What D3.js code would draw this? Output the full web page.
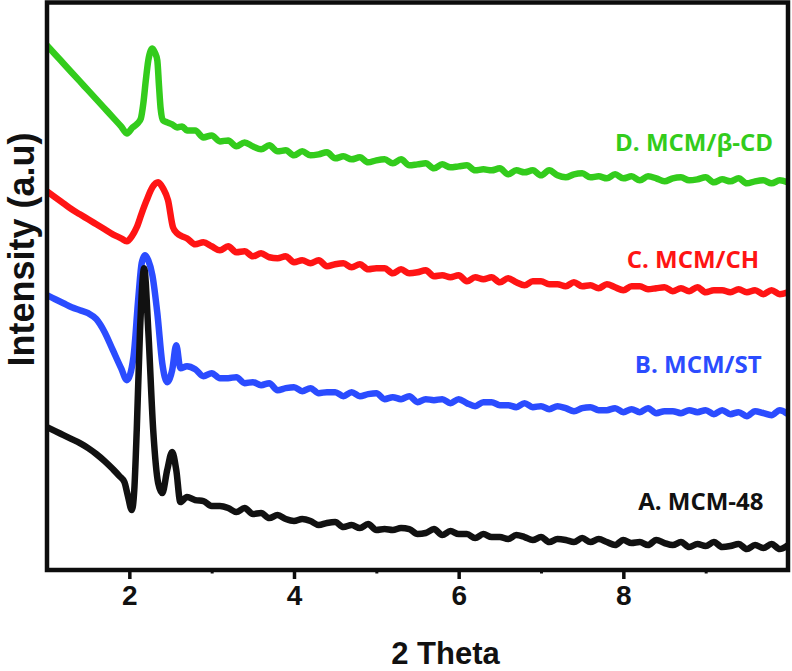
<!DOCTYPE html>
<html>
<head>
<meta charset="utf-8">
<script src="https://cdn.jsdelivr.net/npm/d3@7/dist/d3.min.js"></script>
<style>
  html, body { margin: 0; padding: 0; background: #fff; }
  svg { display: block; }
</style>
</head>
<body>
<svg id="chart" width="792" height="671"></svg>
<script>
// ---------------- DATA ----------------
const xTicks = [2, 4, 6, 8];
const xMinorTicks = [3, 5, 7, 9];
const xTitle = "2 Theta";
const yTitle = "Intensity (a.u)";
const seriesNames = ["A. MCM-48", "B. MCM/ST", "C. MCM/CH", "D. MCM/β-CD"];
const seriesColors = ["#111111", "#2b4cff", "#ff1414", "#33cc1c"];

// shared 2θ values for the noisy tail (2.8 .. 10.0)
const tailX = [2.8,2.9,3.0,3.1,3.2,3.3,3.4,3.5,3.6,3.7,3.8,3.9,4.0,4.1,4.2,4.3,4.4,4.5,4.6,4.7,
  4.8,4.9,5.0,5.1,5.2,5.3,5.4,5.5,5.6,5.7,5.8,5.9,6.0,6.1,6.2,6.3,6.4,6.5,6.6,6.7,
  6.8,6.9,7.0,7.1,7.2,7.3,7.4,7.5,7.6,7.7,7.8,7.9,8.0,8.1,8.2,8.3,8.4,8.5,8.6,8.7,
  8.8,8.9,9.0,9.1,9.2,9.3,9.4,9.5,9.6,9.7,9.8,9.9,10.0];

// A. MCM-48 (black)
const headXA = [1.00,1.10,1.20,1.30,1.40,1.50,1.60,1.70,1.80,1.88,1.94,1.98,2.03,2.06,2.09,2.13,2.18,2.23,2.29,2.35,2.40,2.46,2.52,2.57,2.62,2.70];
const headYA = [143,139,135,131,127,122,116,109,101,94,88,75,60,80,140,240,302,240,140,87,77,100,118,100,68,73];
const tailYA = [70,69,64,64,62,58,62,56,57,52,55,51,49,51,49,45,47,48,43,45,
  42,46,40,41,40,42,41,36,37,41,35,39,36,36,32,36,33,33,31,35,
  33,30,33,28,31,30,28,32,28,31,28,25,30,27,28,25,30,27,25,28,
  23,26,24,28,23,24,26,21,25,22,26,21,25];

// B. MCM/ST (blue)
const headXB = [1.00,1.10,1.20,1.30,1.40,1.50,1.60,1.70,1.80,1.90,1.97,2.05,2.11,2.15,2.19,2.23,2.28,2.34,2.40,2.46,2.52,2.57,2.62,2.70];
const headYB = [275,271,267,263,260,257,251,238,220,202,190,213,273,307,315,310,295,257,207,188,200,225,202,204];
const tailYB = [201,194,197,192,192,193,187,188,185,187,180,182,183,179,182,177,178,178,174,178,
  174,176,177,171,173,171,174,168,171,170,171,167,171,167,164,168,168,165,165,163,
  167,163,164,161,164,162,159,162,163,160,160,162,158,161,158,162,157,159,159,157,
  160,158,160,156,160,156,158,154,159,157,155,160,156];

// C. MCM/CH (red)
const headXC = [1.00,1.10,1.20,1.30,1.40,1.50,1.60,1.70,1.80,1.90,1.97,2.03,2.09,2.15,2.21,2.28,2.35,2.41,2.47,2.53,2.58,2.64,2.70];
const headYC = [379,373,367,361,356,351,346,341,336,332,329,334,343,357,370,383,388,382,370,343,337,334,332];
const tailYC = [326,328,324,320,324,318,319,314,317,313,312,314,308,310,307,310,304,306,307,303,
  306,301,302,302,297,301,297,298,300,294,295,293,295,289,293,291,293,288,292,288,
  285,289,289,286,286,284,288,284,285,282,286,283,280,284,284,281,282,283,279,282,
  279,283,278,280,280,278,281,278,280,276,280,276,278];

// D. MCM/β-CD (green)
const headXD = [1.00,1.10,1.20,1.30,1.40,1.50,1.60,1.70,1.80,1.90,1.97,2.04,2.10,2.14,2.17,2.20,2.23,2.26,2.28,2.31,2.34,2.36,2.38,2.41,2.46,2.52,2.58,2.64,2.70];
const headYD = [525,516,507,498,489,480,471,462,453,444,437,443,447,452,467,490,510,520,522,518,510,485,462,450,448,446,443,444,440];
const tailYD = [440,433,435,429,430,424,428,424,421,425,419,420,415,419,415,416,418,412,414,411,
  413,408,410,411,407,411,405,406,407,402,406,403,404,405,400,401,400,402,396,400,
  398,400,395,400,395,393,396,397,393,394,392,396,392,394,390,394,392,389,392,393,
  390,391,393,388,391,389,392,387,389,390,387,390,388];

// label anchor positions in data units [2θ, intensity]
const labelAt = [[8.18, 60], [8.14, 197], [8.04, 302], [7.90, 419]];

// ---------------- CHART ----------------
const svg = d3.select("#chart");
const W = 792, H = 671;
const margin = {left: 47, right: 4, top: 2.5, bottom: 101};
const x = d3.scaleLinear().domain([1, 10]).range([margin.left, W - margin.right]);
const y = d3.scaleLinear().domain([0, 568]).range([H - margin.bottom, margin.top]);

const build = (hx, hy, ty) => hx.map((v, i) => [v, hy[i]]).concat(tailX.map((v, i) => [v, ty[i]]));
const series = [
  build(headXA, headYA, tailYA),
  build(headXB, headYB, tailYB),
  build(headXC, headYC, tailYC),
  build(headXD, headYD, tailYD)
];

const line = d3.line()
  .x(d => x(d[0]))
  .y(d => y(d[1]))
  .curve(d3.curveMonotoneX);

svg.append("clipPath").attr("id", "clip")
  .append("rect")
  .attr("x", x(1)).attr("y", 0)
  .attr("width", x(10) - x(1)).attr("height", y(0));

const g = svg.append("g").attr("clip-path", "url(#clip)");
// draw D, C, B, then A on top
[3, 2, 1, 0].forEach(i => {
  g.append("path")
    .datum(series[i])
    .attr("d", line)
    .attr("fill", "none")
    .attr("stroke", seriesColors[i])
    .attr("stroke-width", 6.5)
    .attr("stroke-linejoin", "round")
    .attr("stroke-linecap", "round");
});

// frame
svg.append("rect")
  .attr("x", x(1)).attr("y", y(568))
  .attr("width", x(10) - x(1)).attr("height", y(0) - y(568))
  .attr("fill", "none").attr("stroke", "#0d0d0d").attr("stroke-width", 4.5);

// x axis (major)
const xAxis = d3.axisBottom(x).tickValues(xTicks).tickFormat(d3.format("d"))
  .tickSizeInner(9).tickSizeOuter(0).tickPadding(6);
const ax = svg.append("g").attr("transform", `translate(0,${y(0)})`).call(xAxis);
ax.select(".domain").remove();
ax.selectAll(".tick line").attr("stroke", "#0d0d0d").attr("stroke-width", 3.5);
ax.selectAll(".tick text")
  .attr("fill", "#111")
  .style("font-family", "'Liberation Sans Narrow', 'Liberation Sans', Arial, sans-serif")
  .style("font-weight", "bold")
  .style("font-size", "28px");

// minor ticks
const xMinor = d3.axisBottom(x).tickValues(xMinorTicks).tickFormat("").tickSizeInner(3.5).tickSizeOuter(0);
const mx = svg.append("g").attr("transform", `translate(0,${y(0)})`).call(xMinor);
mx.select(".domain").remove();
mx.selectAll(".tick line").attr("stroke", "#0d0d0d").attr("stroke-width", 3);

// axis titles
svg.append("text")
  .attr("x", (x(1) + x(10)) / 2 + 28).attr("y", 664)
  .attr("text-anchor", "middle")
  .style("font-family", "'Liberation Sans', Arial, sans-serif")
  .style("font-weight", "bold").style("font-size", "31px")
  .attr("fill", "#111")
  .text(xTitle);

svg.append("text")
  .attr("transform", `translate(34,${(387 + 112) / 2}) rotate(-90)`)
  .attr("text-anchor", "middle")
  .style("font-family", "'Liberation Sans', Arial, sans-serif")
  .style("font-weight", "bold").style("font-size", "36px")
  .attr("fill", "#111")
  .text(yTitle);

// series labels
seriesNames.forEach((name, i) => {
  svg.append("text")
    .attr("x", x(labelAt[i][0])).attr("y", y(labelAt[i][1]))
    .style("font-family", "'Open Sans', 'Noto Sans', sans-serif")
    .style("font-weight", "bold").style("font-size", "24px")
    .attr("fill", seriesColors[i])
    .text(name);
});
</script>
</body>
</html>
